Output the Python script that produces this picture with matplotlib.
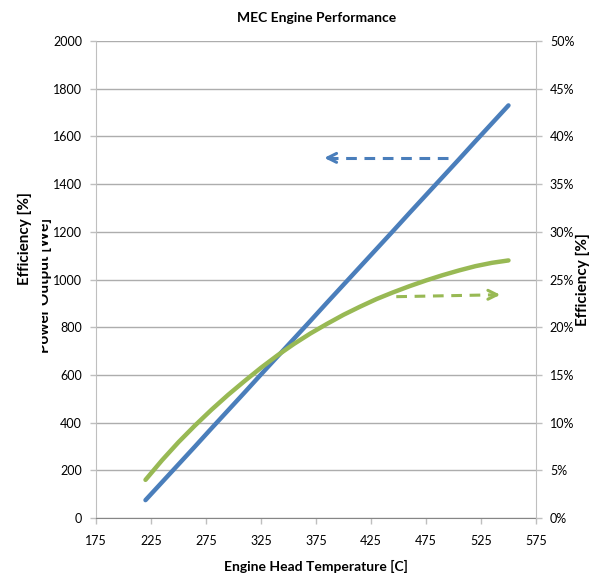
import matplotlib
matplotlib.use("Agg")
import matplotlib.pyplot as plt
from matplotlib.transforms import Bbox

plt.rcParams['font.family'] = ['Lato', 'DejaVu Sans']

# ---- data ----
temps = [220, 235, 250, 265, 280, 295, 310, 325, 340, 355, 370, 385, 400,
         415, 430, 445, 460, 475, 490, 505, 520, 535, 550]
power_we = [75, 150, 225, 300, 376, 451, 526, 602, 677, 752, 827, 903, 978,
            1053, 1128, 1203, 1279, 1354, 1429, 1504, 1580, 1655, 1730]
efficiency_pct = [4.0, 6.05, 7.95, 9.7, 11.35, 12.9, 14.35, 15.75, 17.05, 18.25, 19.35, 20.35, 21.3,
                  22.15, 22.95, 23.65, 24.3, 24.9, 25.45, 25.95, 26.4, 26.75, 27.0]
x_ticks = [175, 225, 275, 325, 375, 425, 475, 525, 575]
left_ticks = list(range(0, 2001, 200))
right_ticks = list(range(0, 51, 5))

BLUE = "#4A7EBB"
GREEN = "#98B954"
GRID = "#ADADAD"
SPINE = "#BFBFBF"

fig = plt.figure(figsize=(6, 5.75), dpi=100)
ax = fig.add_axes([0.16, 0.0991, 0.7333, 0.8296])
ax2 = ax.twinx()

ax.set_xlim(175, 575)
ax.set_ylim(0, 2000)
ax2.set_ylim(0, 50)

ax.plot(temps, power_we, color=BLUE, lw=3.2, solid_capstyle='round',
        solid_joinstyle='round', zorder=3)
ax2.plot(temps, efficiency_pct, color=GREEN, lw=3.2, solid_capstyle='round',
         solid_joinstyle='round', zorder=3)

ax.set_xticks(x_ticks)
ax.set_yticks(left_ticks)
ax2.set_yticks(right_ticks)
ax2.set_yticklabels([f"{v}%" for v in right_ticks])
ax.yaxis.grid(True, color=GRID, lw=1)
ax.set_axisbelow(True)

for a in (ax, ax2):
    a.spines['top'].set_visible(False)
    a.tick_params(labelsize=9, length=4, width=1, color=SPINE, labelcolor='black')
ax.spines['left'].set_color(SPINE)
ax.spines['right'].set_visible(False)
ax2.spines['left'].set_visible(False)
ax2.spines['bottom'].set_visible(False)
ax2.spines['right'].set_color(SPINE)
ax.spines['bottom'].set_color('#868686')
ax.tick_params(axis='x', pad=8)
ax.tick_params(axis='y', pad=6)
ax2.tick_params(axis='y', pad=6)

# dashed arrows
ax.plot([495, 385], [1510, 1510], color=BLUE, lw=2.2, ls=(0, (3.5, 2.5)), zorder=3)
ax.annotate("", xy=(380, 1510), xytext=(392, 1510),
            arrowprops=dict(arrowstyle='->', color=BLUE, lw=2.2, mutation_scale=16))
ax2.plot([448, 540], [23.2, 23.4], color=GREEN, lw=2.2, ls=(0, (3.5, 2.5)), zorder=3)
ax2.annotate("", xy=(545, 23.4), xytext=(533, 23.4),
             arrowprops=dict(arrowstyle='->', color=GREEN, lw=2.2, mutation_scale=16))

fig.text(0.527, 0.968, "MEC Engine Performance", ha='center', va='center',
         fontsize=10, fontweight='bold')
fig.text(0.527, 0.015, "Engine Head Temperature [C]", ha='center', va='center',
         fontsize=10, fontweight='bold')
fig.text(0.972, 0.513, "Efficiency [%]", ha='center', va='center', rotation=90,
         fontsize=11, fontweight='bold')
fig.text(0.042, 0.585, "Efficiency [%]", ha='center', va='center', rotation=90,
         fontsize=11, fontweight='bold')
t = fig.text(0.0745, 0.503, "Power Output [We]", ha='center', va='center', rotation=90,
             fontsize=11, fontweight='bold')
t.set_clip_on(True)
t.set_clip_box(Bbox.from_extents(42, 0, 70, 575))

fig.savefig("out.png", dpi=100)
